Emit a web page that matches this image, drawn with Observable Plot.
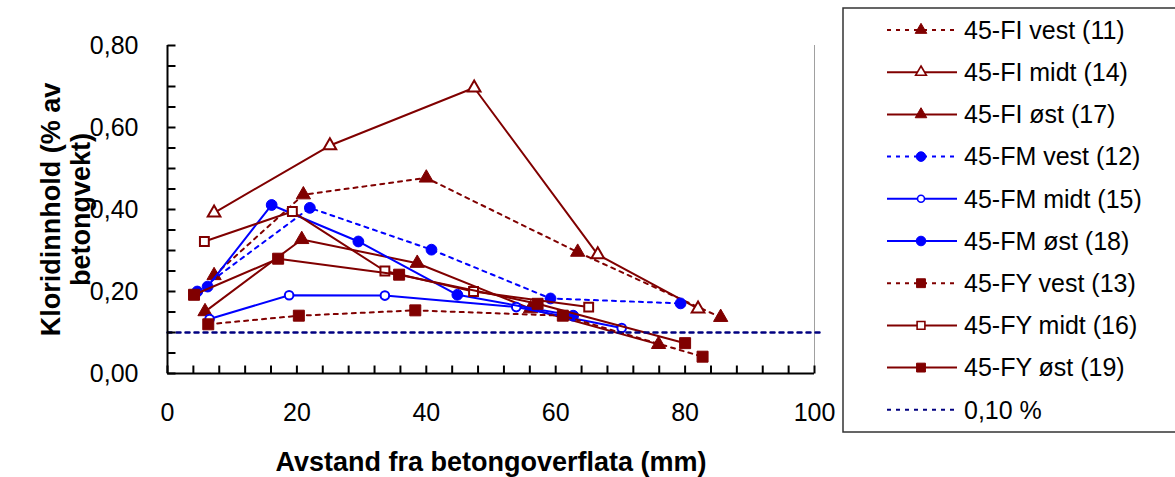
<!DOCTYPE html>
<html>
<head>
<meta charset="utf-8">
<script src="https://cdn.jsdelivr.net/npm/d3@7"></script>
<script src="https://cdn.jsdelivr.net/npm/@observablehq/plot@0.6"></script>
<style>
  html, body { margin: 0; padding: 0; background: #fff; }
  #wrap { position: relative; width: 1175px; height: 477px; overflow: hidden; font-family: "Liberation Sans", Arial, sans-serif; }
</style>
</head>
<body>
<div id="wrap"></div>
<script>
// ---------- data ----------
const seriesNames = ["45-FI vest (11)", "45-FI midt (14)", "45-FI øst (17)",
  "45-FM vest (12)", "45-FM midt (15)", "45-FM øst (18)",
  "45-FY vest (13)", "45-FY midt (16)", "45-FY øst (19)", "0,10 %"];

const fiVestX = [7.2, 21.0, 40.0, 63.4, 85.5];
const fiVestY = [0.239, 0.436, 0.477, 0.296, 0.137];
const fiMidtX = [7.2, 25.1, 47.4, 66.5, 82.0];
const fiMidtY = [0.392, 0.556, 0.697, 0.290, 0.158];
const fiOstX  = [5.8, 20.75, 38.6, 56.1, 75.9];
const fiOstY  = [0.151, 0.327, 0.269, 0.158, 0.071];
const fmVestX = [4.6, 22.0, 40.8, 59.2, 79.3];
const fmVestY = [0.200, 0.404, 0.302, 0.183, 0.171];
const fmMidtX = [6.5, 18.8, 33.6, 53.9, 70.2];
const fmMidtY = [0.133, 0.191, 0.190, 0.162, 0.111];
const fmOstX  = [6.2, 16.1, 29.5, 44.8, 62.7];
const fmOstY  = [0.212, 0.411, 0.322, 0.192, 0.141];
const fyVestX = [6.3, 20.3, 38.3, 61.1, 82.7];
const fyVestY = [0.120, 0.141, 0.154, 0.141, 0.041];
const fyMidtX = [5.7, 19.3, 33.6, 47.3, 65.1];
const fyMidtY = [0.322, 0.395, 0.250, 0.200, 0.162];
const fyOstX  = [4.1, 17.1, 35.8, 57.2, 80.0];
const fyOstY  = [0.192, 0.280, 0.241, 0.170, 0.074];
const refX = [0, 101];
const refY = [0.10, 0.10];

const xValues = [fiVestX, fiMidtX, fiOstX, fmVestX, fmMidtX, fmOstX, fyVestX, fyMidtX, fyOstX, refX];
const yValues = [fiVestY, fiMidtY, fiOstY, fmVestY, fmMidtY, fmOstY, fyVestY, fyMidtY, fyOstY, refY];

const yTickLabels = [0, 0.2, 0.4, 0.6, 0.8];
const yMinorTicks = [0, 0.05, 0.1, 0.15, 0.2, 0.25, 0.3, 0.35, 0.4, 0.45, 0.5, 0.55, 0.6, 0.65, 0.7, 0.75, 0.8];
const xTickLabels = [0, 20, 40, 60, 80, 100];
const xMinorTicks = [0, 4, 8, 12, 16, 20, 24, 28, 32, 36, 40, 44, 48, 52, 56, 60, 64, 68, 72, 76, 80, 84, 88, 92, 96, 100];

const xTitle = "Avstand fra betongoverflata (mm)";
const yTitle = "Kloridinnhold (% av\nbetongvekt)";

// ---------- styles ----------
const RED = "#800000", BLUE = "#0000ff", NAVY = "#000080";
const styles = [
  {color: RED,  dash: "4,5", symbol: "triangle", filled: true},
  {color: RED,  dash: null,  symbol: "triangle", filled: false},
  {color: RED,  dash: null,  symbol: "triangle", filled: true},
  {color: BLUE, dash: "4,5", symbol: "circle",   filled: true},
  {color: BLUE, dash: null,  symbol: "circle",   filled: false},
  {color: BLUE, dash: null,  symbol: "circle",   filled: true},
  {color: RED,  dash: "4,5", symbol: "square",   filled: true},
  {color: RED,  dash: null,  symbol: "square",   filled: false},
  {color: RED,  dash: null,  symbol: "square",   filled: true},
  {color: NAVY, dash: "4,5", symbol: null,       filled: false}
];
const plotR = {triangle: {true: 5.3, false: 4.7}, circle: {true: 5.4, false: 4.3}, square: {true: 6.2, false: 5.0}};

const tables = seriesNames.map((name, i) => xValues[i].map((x, j) => ({series: name, x, y: yValues[i][j]})));

// tick-mark glyphs (8 px, pointing into the plot)
const TICK = 8;
const tickRight = {draw(context) { context.moveTo(0, 0); context.lineTo(TICK, 0); }};
const tickUp = {draw(context) { context.moveTo(0, 0); context.lineTo(0, -TICK); }};

const marks = [
  Plot.ruleX([100], {stroke: "#a0a0a0", strokeWidth: 1})
];
tables.forEach((data, i) => {
  const s = styles[i];
  marks.push(Plot.line(data, {x: "x", y: "y", stroke: s.color, strokeWidth: i === 9 ? 2.5 : 2, strokeDasharray: s.dash}));
  if (s.symbol) {
    marks.push(Plot.dot(data, {x: "x", y: "y", symbol: s.symbol, r: plotR[s.symbol][s.filled],
      fill: s.filled ? s.color : "white", stroke: s.color, strokeWidth: s.filled ? 1 : 2}));
  }
});
marks.push(
  Plot.ruleX([0], {stroke: "black", strokeWidth: 2}),
  Plot.ruleY([0], {stroke: "black", strokeWidth: 2}),
  // inward tick marks
  Plot.dot(yMinorTicks, {x: () => 0, y: d => d, symbol: tickRight, r: 4, fill: "none", stroke: "black", strokeWidth: 2}),
  Plot.dot(xMinorTicks, {x: d => d, y: () => 0, symbol: tickUp, r: 4, fill: "none", stroke: "black", strokeWidth: 2}),
  // tick labels
  Plot.axisY({ticks: yTickLabels, tickSize: 0, tickPadding: 29, fontSize: 25, label: null,
    tickFormat: d => d.toFixed(2).replace(".", ",")}),
  Plot.axisX({ticks: xTickLabels, tickSize: 0, tickPadding: 30, fontSize: 25, label: null, tickFormat: d => String(d)}),
  Plot.text([yTitle], {text: d => d, frameAnchor: "left", dx: -102, rotate: -90, textAnchor: "middle", fontWeight: "bold", fontSize: 27, lineHeight: 1.12, lineAnchor: "middle", fill: "black"}),
  Plot.text([xTitle], {text: d => d, frameAnchor: "bottom", dy: 89, fontWeight: "bold", fontSize: 27, lineAnchor: "middle", fill: "black"})
);

const chart = Plot.plot({
  width: 1175, height: 477,
  marginLeft: 167, marginRight: 361, marginTop: 45, marginBottom: 104,
  x: {domain: [0, 100]},
  y: {domain: [0, 0.8]},
  style: {fontFamily: "'Liberation Sans', Arial, sans-serif", fontSize: "25px", color: "black", background: "white", overflow: "visible"},
  marks
});
document.getElementById("wrap").appendChild(chart);

// ---------- legend ----------
const legR = {triangle: {true: 4.3, false: 4.0}, circle: {true: 4.8, false: 3.5}, square: {true: 5.0, false: 4.4}};
const leg = d3.select("#wrap").append("svg")
  .attr("width", 340).attr("height", 430)
  .style("position", "absolute").style("left", "842px").style("top", "7px");
leg.append("rect").attr("x", 1).attr("y", 1).attr("width", 400).attr("height", 424)
  .attr("fill", "white").attr("stroke", "#333").attr("stroke-width", 1.5);
seriesNames.forEach((name, i) => {
  const s = styles[i];
  const cy = 23 + i * 42.2;
  const g = leg.append("g").attr("transform", `translate(0,${cy})`);
  g.append("line").attr("x1", 45).attr("x2", 115).attr("y1", 0).attr("y2", 0)
    .attr("stroke", s.color).attr("stroke-width", 2).attr("stroke-dasharray", s.dash);
  if (s.symbol) {
    const sym = {triangle: d3.symbolTriangle, circle: d3.symbolCircle, square: d3.symbolSquare}[s.symbol];
    const r = legR[s.symbol][s.filled];
    g.append("path").attr("transform", "translate(79,0)")
      .attr("d", d3.symbol(sym, r * r * Math.PI)())
      .attr("fill", s.filled ? s.color : "white").attr("stroke", s.color).attr("stroke-width", s.filled ? 1 : 1.6);
  }
  g.append("text").attr("x", 122).attr("y", 0).attr("dy", "0.35em")
    .attr("font-family", "'Liberation Sans', Arial, sans-serif").attr("font-size", 25).attr("fill", "black")
    .text(name);
});
</script>
</body>
</html>
